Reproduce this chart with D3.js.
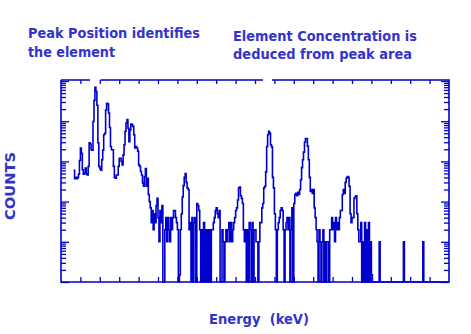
<!DOCTYPE html>
<html><head><meta charset="utf-8">
<script src="https://cdn.jsdelivr.net/npm/d3@7"></script>
<style>
body{margin:0;background:#fff;}
svg{display:block;}
text{font-family:"DejaVu Sans",sans-serif;font-weight:bold;fill:#3333cc;white-space:pre;}
</style>
</head><body>
<svg id="c" width="471" height="334"></svg>
<script>
// ---- data: counts per 0.05 keV channel ----
const counts = [
 60,37,40,37,40,48,105,215,160,62,
 48,51,68,49,46,75,290,270,195,190,
 980,3300,7000,5500,2500,290,75,66,60,110,
 190,460,500,1900,2800,2700,1600,700,235,195,
 195,75,40,38,46,46,75,120,120,100,
 82,145,260,560,900,1100,670,310,610,850,
 810,740,460,215,235,215,180,82,75,56,
 46,29,24,42,66,24,38,15,10,7,
 3,6,2,5,3,8,12,4,1,6,
 3,8,0,0,2,4,1,4,2,1,
 4,2,4,6,6,4,3,2,0,0.15,
 2,5,13,25,40,50,30,22,20,2,
 3,0,4,0,3,4,0,9,8,6,
 2,0,2,0,3,0,2,0,2,0,
 2,0,2,2,3,4,6,7,5,4,
 6,0,0,2,1,0,1,2,1,2,
 3,1,3,1,2,3,4,6,7,11,
 22,23,14,12,9,2,1,2,0,2,
 0,3,2,0,3,0,2,2,1,1,
 0,1,3,3,7,9,22,24,55,235,
 460,560,500,260,230,40,22,5,2,0,
 2,3,4,6,7,6,2,0,2,3,
 4,2,4,0,2,7,0,9,15,16,
 14,17,15,20,35,70,110,170,300,370,
 370,240,110,40,18,20,16,20,7,4,
 2,1,0,2,1,0,1,2,0,1,
 0,1,1,0,2,2,4,2,3,1,
 4,2,3,2,4,6,6,15,20,16,
 30,38,42,40,24,5,3,4,4,12,
 13,14,5,2,1,1,3,0,1,0,
 3,0,2,0,3,0,1,0.15,0,0,
 0,0,0,0,0,1,0,0,0,0,
 0,0,0,0,0,0,0,0,0,0,
 0,0,0,0,0,0,0,0,0,0,
 1,0,0,0,0,0,0,0,0,0,
 0,0,0,0,0,0,0,0,0,0,
 1,0,0,0,0,0,0,0,0,0,
 0,0,0,0,0,0,0,0,0,0,
 0,0,0,0,0,0
];
const channelStartKeV = 0.65;
const channelWidthKeV = 0.05;
const energyDomain = [0, 20];
const energyTicks = d3.range(1, 20);
const countDomain = [0.1, 10000];
const noteLeft = ["Peak Position identifies", "the element"];
const noteRight = ["Element Concentration is", "deduced from peak area"];
const xTitle = "Energy  (keV)";
const yTitle = "COUNTS";

// ---- drawing ----
const svg = d3.select("#c");
const L = 61, R = 449, T = 80, B = 282;
const x = d3.scaleLinear().domain(energyDomain).range([L, R]);
const y = d3.scaleLog().domain(countDomain).range([B, T + 1]);
const lineCol = "#0000cc";

const energies = counts.map((_, i) => channelStartKeV + i * channelWidthKeV);
const pts = counts.map((c, i) => [energies[i], c]);
pts.push([channelStartKeV + counts.length * channelWidthKeV, counts[counts.length - 1]]);
const yv = v => v > countDomain[0] ? y(v) : B;

svg.append("path")
  .datum(pts)
  .attr("fill", "none")
  .attr("stroke", lineCol)
  .attr("stroke-width", 1.6)
  .attr("d", d3.line().x(d => x(d[0])).y(d => yv(d[1])).curve(d3.curveStepAfter));

// axes ticks
const allY = y.ticks();
const majorY = allY.filter(v => Math.abs(Math.log10(v) - Math.round(Math.log10(v))) < 1e-9);
const minorY = allY.filter(v => !majorY.includes(v));
function styleAxis(g) {
  g.select(".domain").remove();
  g.selectAll("line").attr("stroke", lineCol).attr("stroke-width", 1.3);
  g.selectAll("text").remove();
}
svg.append("g").attr("transform", `translate(${L},0)`)
  .call(d3.axisRight(y).tickValues(majorY).tickSize(8).tickFormat("")).call(styleAxis);
svg.append("g").attr("transform", `translate(${L},0)`)
  .call(d3.axisRight(y).tickValues(minorY).tickSize(5).tickFormat("")).call(styleAxis);
svg.append("g").attr("transform", `translate(${R},0)`)
  .call(d3.axisLeft(y).tickValues(majorY).tickSize(8).tickFormat("")).call(styleAxis);
svg.append("g").attr("transform", `translate(${R},0)`)
  .call(d3.axisLeft(y).tickValues(minorY).tickSize(5).tickFormat("")).call(styleAxis);
svg.append("g").attr("transform", `translate(0,${T})`)
  .call(d3.axisBottom(x).tickValues(energyTicks).tickSize(4).tickFormat("")).call(styleAxis);
svg.append("g").attr("transform", `translate(0,${B})`)
  .call(d3.axisTop(x).tickValues(energyTicks).tickSize(5).tickFormat("")).call(styleAxis);

// frame (top edge has two small gaps as in the original)
const frame = d3.path();
frame.moveTo(L, T); frame.lineTo(L, B); frame.lineTo(R, B); frame.lineTo(R, T); frame.lineTo(272, T);
frame.moveTo(263, T); frame.lineTo(100.5, T);
frame.moveTo(90, T); frame.lineTo(L, T);
svg.append("path").attr("d", frame.toString()).attr("fill", "none")
  .attr("stroke", lineCol).attr("stroke-width", 1.6);

// texts
function txt(s, tx, ty, w, size) {
  return svg.append("text").attr("x", tx).attr("y", ty).attr("font-size", size)
    .attr("textLength", w).attr("lengthAdjust", "spacingAndGlyphs").text(s);
}
txt(noteLeft[0], 28, 38, 172, 14);
txt(noteLeft[1], 28, 56.5, 87, 14);
txt(noteRight[0], 233, 40.5, 184, 14);
txt(noteRight[1], 233, 59, 179, 14);
txt(xTitle, 209, 323.5, 100, 14);
svg.append("text").attr("transform", "translate(15,186) rotate(-90)")
  .attr("text-anchor", "middle").attr("font-size", 14)
  .attr("textLength", 68).attr("lengthAdjust", "spacingAndGlyphs").text(yTitle);
</script>
</body></html>
